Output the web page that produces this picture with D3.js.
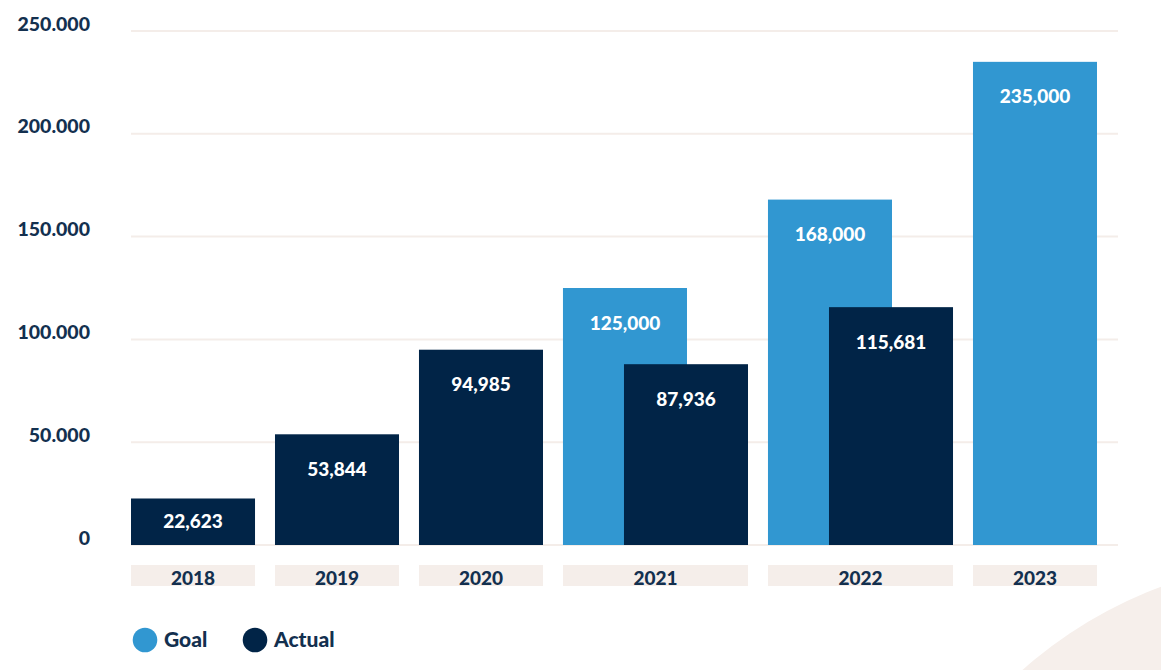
<!DOCTYPE html>
<html>
<head>
<meta charset="utf-8">
<script src="https://cdn.jsdelivr.net/npm/d3@7"></script>
<style>
  html, body { margin: 0; padding: 0; background: #ffffff; }
  svg { display: block; }
  text { font-family: Lato, "Open Sans", sans-serif; font-weight: 900; }
</style>
</head>
<body>
<svg id="chart" width="1161" height="670"></svg>
<script>
// Yearly data
const years = ["2018", "2019", "2020", "2021", "2022", "2023"];
const goalValues = [null, null, null, 125000, 168000, 235000];
const actualValues = [22623, 53844, 94985, 87936, 115681, null];
const yTicks = [0, 50000, 100000, 150000, 200000, 250000];
const seriesNames = ["Goal", "Actual"];
const seriesColors = ["#3197d1", "#012447"];

const W = 1161, H = 670;
const svg = d3.select("#chart");

// Background arc in the lower-right corner
svg.append("circle")
  .attr("cx", 1315).attr("cy", 1000).attr("r", 441)
  .attr("fill", "#f6efeb");

const plotLeft = 131, plotRight = 1097, gridRight = 1118;
const y = d3.scaleLinear().domain([0, 250000]).range([545, 31]);

// Each year occupies one bar width, or a little less than 1.5 when goal and actual overlap
const gapUnits = 0.161;
const pairWidth = 1.492;
const groups = [];
let cursor = 0;
years.forEach((yr, i) => {
  const both = goalValues[i] != null && actualValues[i] != null;
  const w = both ? pairWidth : 1;
  groups.push({ year: yr, start: cursor, width: w, goal: goalValues[i], actual: actualValues[i], both });
  cursor += w + gapUnits;
});
const totalUnits = cursor - gapUnits;
const x = d3.scaleLinear().domain([0, totalUnits]).range([plotLeft, plotRight]);

// Gridlines and y labels
const yAxis = d3.axisLeft(y).tickValues(yTicks)
  .tickSize(0)
  .tickFormat(d => d === 0 ? "0" : d3.format(",")(d).replace(/,/g, "."));
const yG = svg.append("g").attr("transform", `translate(90,0)`).call(yAxis);
yG.select(".domain").remove();
yG.selectAll("text")
  .attr("x", 0).attr("dy", "-0.05em")
  .attr("fill", "#13304f")
  .style("font-size", "19.5px")
  .style("font-family", "Lato, sans-serif")
  .style("font-weight", "900");

svg.append("g").selectAll("line").data(yTicks).join("line")
  .attr("x1", plotLeft).attr("x2", gridRight)
  .attr("y1", d => y(d)).attr("y2", d => y(d))
  .attr("stroke", "#f4ede9").attr("stroke-width", 2);

// Bars
const bars = [];
groups.forEach(g => {
  if (g.goal != null) bars.push({ series: 0, value: g.goal, x0: g.start });
  if (g.actual != null) bars.push({ series: 1, value: g.actual, x0: g.both ? g.start + pairWidth - 1 : g.start });
});

const barG = svg.append("g");
barG.selectAll("rect").data(bars).join("rect")
  .attr("x", d => x(d.x0))
  .attr("y", d => y(d.value))
  .attr("width", x(1) - x(0))
  .attr("height", d => y(0) - y(d.value))
  .attr("fill", d => seriesColors[d.series]);

barG.selectAll("text").data(bars).join("text")
  .attr("x", d => x(d.x0 + 0.5))
  .attr("y", d => Math.min(y(d.value) + 35, (y(d.value) + y(0)) / 2))
  .attr("dy", "0.35em")
  .attr("text-anchor", "middle")
  .attr("fill", "#ffffff")
  .style("font-size", "19px")
  .text(d => d3.format(",")(d.value));

// Year label boxes
const xg = svg.append("g");
xg.selectAll("rect").data(groups).join("rect")
  .attr("x", d => x(d.start))
  .attr("y", 565)
  .attr("width", d => x(d.start + d.width) - x(d.start))
  .attr("height", 21)
  .attr("fill", "#f5eeea");
xg.selectAll("text").data(groups).join("text")
  .attr("x", d => x(d.start + d.width / 2))
  .attr("y", 578)
  .attr("dy", "0.35em")
  .attr("text-anchor", "middle")
  .attr("fill", "#13304f")
  .style("font-size", "19px")
  .text(d => d.year);

// Legend
const legend = svg.append("g").attr("transform", "translate(145,640)");
const legendOffsets = [0, 110];
seriesNames.forEach((name, i) => {
  const lg = legend.append("g").attr("transform", `translate(${legendOffsets[i]},0)`);
  lg.append("circle").attr("r", 12.3).attr("fill", seriesColors[i]);
  lg.append("text").attr("x", 19).attr("dy", "0.35em")
    .attr("fill", "#13304f").style("font-size", "21px").text(name);
});
</script>
</body>
</html>
